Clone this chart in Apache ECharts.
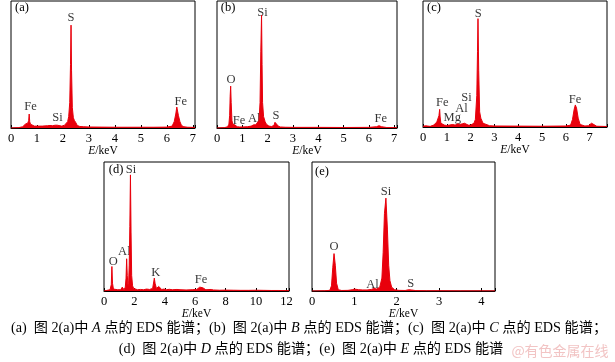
<!DOCTYPE html>
<html><head><meta charset="utf-8">
<script src="https://cdn.jsdelivr.net/npm/echarts@6/dist/echarts.min.js"></script>
<style>html,body{margin:0;padding:0;background:#fff}#c{width:615px;height:362px}</style>
</head><body><div id="c"></div>
<script>
// ---- data (energy in keV, counts in % of full scale) ----
const energyA = [0,0.3,0.45,0.5,0.55,0.6,0.65,0.68,0.70,0.72,0.75,0.8,0.9,1.0,1.2,1.4,1.5,1.6,1.7,1.74,1.78,1.85,1.95,2.05,2.12,2.18,2.22,2.26,2.29,2.31,2.33,2.36,2.4,2.44,2.47,2.5,2.55,2.65,2.8,3.0,3.5,4.0,4.5,5.0,5.5,6.0,6.2,6.28,6.34,6.38,6.41,6.44,6.5,6.56,6.65,6.8,7.0,7.08];
const countsA = [0,0.3,1,2.5,3,3.5,4,6,11,5,3,2,1.5,1.5,1.5,1.8,2,1.8,2.2,3,2.2,1.5,1.5,2,3,5,9,20,50,81,45,16,8,6,7,4,2,1.2,1,0.8,0.7,0.6,0.6,0.6,0.6,0.7,1.5,5,11,16.5,15,10,5,2,1,0.6,0.5,0.3];
const energyB = [0,0.3,0.42,0.47,0.5,0.52,0.54,0.56,0.59,0.62,0.66,0.7,0.74,0.8,0.9,1.0,1.2,1.35,1.45,1.49,1.53,1.6,1.66,1.7,1.73,1.76,1.78,1.8,1.84,1.9,1.95,2.05,2.15,2.25,2.29,2.32,2.36,2.42,2.5,2.7,3.0,4.0,5.0,6.0,6.3,6.4,6.5,6.7,7.0,7.11];
const countsB = [0,0.3,1,3,10,25,33,20,6,3,2,2.5,1.5,1,0.8,0.8,1,1.5,2.5,3.5,2.5,3.5,6,20,60,89,50,20,9,5,3,1.5,1.2,2,4.5,5,3,1.5,0.8,0.6,0.5,0.5,0.4,0.5,1,1.8,1,0.4,0.3,0.2];
const energyC = [0,0.1,0.3,0.45,0.52,0.58,0.63,0.67,0.70,0.72,0.75,0.8,0.9,1.0,1.1,1.25,1.35,1.45,1.49,1.55,1.65,1.74,1.8,1.9,2.0,2.08,2.14,2.2,2.26,2.29,2.31,2.34,2.38,2.43,2.47,2.52,2.6,2.8,3.0,4.0,5.0,6.0,6.2,6.28,6.35,6.4,6.45,6.52,6.6,6.8,6.95,7.03,7.08,7.15,7.3,7.73];
const countsC = [0.5,1,0.5,1.5,3,4,5,9,14,8,3,2,1.5,1.2,1.5,2,1.5,2.5,3,2,2.5,3,2,1.5,1.5,2,3,6,25,60,86,45,12,7,6,3,1.5,1,0.8,0.7,0.6,0.8,1.5,6,14,17.5,15,7,2,0.8,1,2.5,3,1.5,0.6,0.4];
const energyD = [0,0.2,0.4,0.48,0.52,0.56,0.62,0.7,0.9,1.0,1.1,1.2,1.26,1.32,1.4,1.45,1.49,1.53,1.58,1.62,1.66,1.7,1.74,1.78,1.82,1.88,1.95,2.05,2.2,2.4,2.6,2.8,3.0,3.2,3.27,3.31,3.36,3.45,3.55,3.6,3.7,3.8,3.95,4.1,4.3,4.5,4.8,5.0,5.4,5.8,6.1,6.3,6.4,6.5,6.7,7.05,7.2,7.6,8.0,8.5,9.0,9.5,10.0,10.5,11.0,11.5,12.0,12.17];
const countsD = [0,0.5,1,5,19,6,1.5,1,1,1.5,1,3,1.5,1,3,10,25,12,4,6,20,50,90,45,12,4,2,1.5,1,1.2,1,1.5,1.2,2,7,10,6,2,2.5,3.5,2,1.2,1.5,1,1.3,1,1.2,1,0.8,1,1.2,3,4,2.5,1,1.2,0.8,0.6,0.7,0.6,0.5,0.5,0.6,0.5,0.4,0.4,0.3,0.3];
const energyE = [0,0.3,0.42,0.46,0.49,0.52,0.55,0.58,0.62,0.7,0.85,0.95,1.0,1.1,1.2,1.3,1.4,1.46,1.49,1.53,1.6,1.65,1.68,1.71,1.745,1.78,1.81,1.84,1.88,1.95,2.05,2.2,2.28,2.31,2.35,2.45,2.7,3.0,3.5,4.0,4.32];
const countsE = [0,0.2,0.5,4,18,29,20,6,1,0.4,0.5,1,1.5,1,0.8,0.8,1.2,2,2.5,1.5,3,10,30,60,72,48,20,8,3,1,0.5,0.4,1,1.2,0.8,0.3,0.2,0.2,0.1,0.1,0.1];

// element labels: [energy, height, text]
const labelsA = [[2.31,87,'S'],[0.75,17,'Fe'],[1.79,8,'Si'],[6.53,21,'Fe']];
const labelsB = [[1.8,91,'Si'],[0.55,38,'O'],[0.87,5.5,'Fe'],[1.47,7,'Al'],[2.33,9.5,'S'],[6.47,7,'Fe']];
const labelsC = [[2.32,90,'S'],[0.81,19,'Fe'],[1.23,7.7,'Mg'],[1.62,14.5,'Al'],[1.83,23.5,'Si'],[6.39,22,'Fe']];
const labelsD = [[1.78,94,'Si'],[1.34,30.5,'Al'],[0.61,23,'O'],[3.4,14.5,'K'],[6.38,8.8,'Fe']];
const labelsE = [[1.745,77,'Si'],[0.52,34,'O'],[1.43,5.2,'Al'],[2.33,5.7,'S']];

const panelTags = ['(a)','(b)','(c)','(d)','(e)'];
const xMax = [7.08, 7.11, 7.73, 12.17, 4.32];
const xInterval = [1, 1, 1, 2, 1];
const axisTitle = '{i|E}/keV';
const captionLine1 = [['(a)  图 2(a)中 ',''],['A','i'],[' 点的 EDS 能谱；(b)  图 2(a)中 ',''],['B','i'],[' 点的 EDS 能谱；(c)  图 2(a)中 ',''],['C','i'],[' 点的 EDS 能谱；','']];
const captionLine2 = [['(d)  图 2(a)中 ',''],['D','i'],[' 点的 EDS 能谱；(e)  图 2(a)中 ',''],['E','i'],[' 点的 EDS 能谱','']];
const watermark = '@有色金属在线';

// ---- layout ----
const FONT = "'Liberation Serif','Times New Roman','Noto Sans CJK SC',serif";
const RED = '#e8000c';
const grids = [
  {left:11, top:1, width:184, height:127},
  {left:217, top:1, width:180, height:127},
  {left:423, top:1, width:184, height:126},
  {left:104, top:162, width:185, height:129},
  {left:312, top:162, width:183, height:129}
];
const tagPos = [[22,8],[228,8],[434,8],[116,170],[322,172]];
const spectra = [[energyA,countsA],[energyB,countsB],[energyC,countsC],[energyD,countsD],[energyE,countsE]];
const labels = [labelsA,labelsB,labelsC,labelsD,labelsE];

const xAxes = [], yAxes = [], series = [];
grids.forEach((g,i)=>{
  g.show = true; g.borderColor = '#000'; g.borderWidth = 1; g.containLabel = false;
  xAxes.push({
    type:'value', gridIndex:i, min:0, max:xMax[i], interval:xInterval[i],
    axisLine:{show:true, lineStyle:{color:'#000', width:1}},
    axisTick:{show:true, inside:true, length:3, lineStyle:{color:'#000'}},
    axisLabel:{color:'#000', fontFamily:FONT, fontSize:12.5, margin:4,
      formatter:v=> (Math.abs(v-Math.round(v))<1e-9 ? String(Math.round(v)) : '')},
    splitLine:{show:false},
    name:axisTitle, nameLocation:'middle', nameGap:17,
    nameTextStyle:{color:'#000', fontFamily:FONT, fontSize:11.5,
      rich:{i:{fontStyle:'italic', fontFamily:FONT, fontSize:11.5, color:'#000'}}}
  });
  yAxes.push({type:'value', gridIndex:i, min:0, max:100, show:false});
  const [ex, cy] = spectra[i];
  series.push({
    type:'line', xAxisIndex:i, yAxisIndex:i, showSymbol:false, symbol:'none',
    data: ex.map((x,k)=>[x, cy[k]]),
    lineStyle:{color:RED, width:1}, areaStyle:{color:RED, opacity:1},
    itemStyle:{color:RED}, silent:true, animation:false
  });
  series.push({
    type:'scatter', xAxisIndex:i, yAxisIndex:i, symbolSize:1,
    itemStyle:{color:'rgba(0,0,0,0)'}, data: labels[i], silent:true, animation:false,
    label:{show:true, position:'inside', formatter:p=>p.data[2], color:'#000',
      fontFamily:FONT, fontSize:12.5}
  });
});

function richText(parts){
  return parts.map(([t,s])=> s ? `{i|${t}}` : `{n|${t}}`).join('');
}
const captionRich = {
  n:{fontFamily:FONT, fontSize:14.2, color:'#000'},
  i:{fontFamily:FONT, fontSize:14.2, fontStyle:'italic', color:'#000'}
};

const graphic = panelTags.map((t,i)=>({
  type:'text', x:tagPos[i][0], y:tagPos[i][1],
  style:{text:t, fontFamily:FONT, fontSize:12.5, fill:'#000', align:'center', verticalAlign:'middle'}
}));
graphic.push({type:'text', x:309, y:328, style:{text:richText(captionLine1), rich:captionRich, align:'center', verticalAlign:'middle', fill:'#000'}});
graphic.push({type:'text', x:311, y:349, style:{text:richText(captionLine2), rich:captionRich, align:'center', verticalAlign:'middle', fill:'#000'}});
graphic.push({type:'text', x:560, y:351, style:{text:watermark, fontFamily:"'Noto Sans CJK SC',sans-serif", fontSize:14, fill:'#f2c4c4', align:'center', verticalAlign:'middle'}});

const chart = echarts.init(document.getElementById('c'), null, {renderer:'canvas'});
chart.setOption({animation:false, backgroundColor:'#fff', grid:grids, xAxis:xAxes, yAxis:yAxes, series, graphic});
</script></body></html>
